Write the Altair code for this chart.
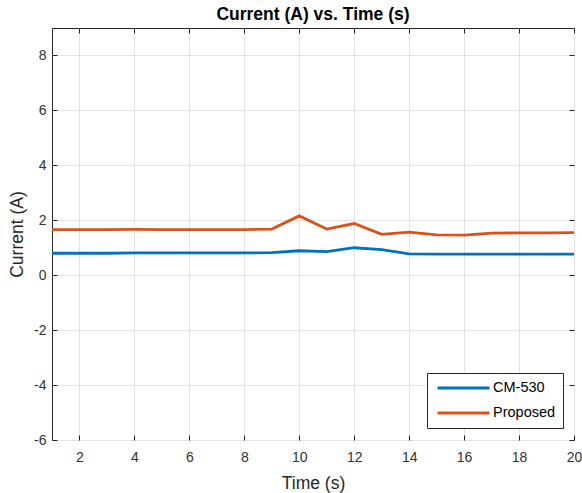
import altair as alt
import pandas as pd

time = list(range(1, 21))
cm530 = [0.80, 0.80, 0.80, 0.81, 0.81, 0.81, 0.81, 0.81, 0.82, 0.89,
         0.86, 1.00, 0.93, 0.78, 0.77, 0.77, 0.77, 0.77, 0.77, 0.77]
proposed = [1.66, 1.66, 1.66, 1.67, 1.66, 1.66, 1.66, 1.66, 1.68, 2.16,
            1.68, 1.88, 1.49, 1.57, 1.47, 1.46, 1.53, 1.54, 1.54, 1.55]
series = ["CM-530", "Proposed"]
colors = ["#0072BD", "#D95319"]
x_ticks = list(range(2, 21, 2))
y_ticks = list(range(-6, 9, 2))

df = pd.DataFrame({
    "Time": time * 2,
    "Current": cm530 + proposed,
    "Series": [series[0]] * len(time) + [series[1]] * len(time),
})

FONT = "Liberation Sans"
AX = "#262626"

xs = alt.Scale(domain=[1, 20], nice=False, zero=False)
ys = alt.Scale(domain=[-6, 9], nice=False, zero=False)

main = alt.Chart(df).mark_line(strokeWidth=2.8).encode(
    x=alt.X("Time:Q", scale=xs, title="Time (s)",
            axis=alt.Axis(values=x_ticks, grid=True, domain=False, offset=-5,
                          tickSize=5, tickColor=AX, labelPadding=10,
                          labelFontSize=14, labelColor="#333333",
                          labelExpr="datum.value + ''",
                          titleFontSize=17.5, titleFontWeight="normal",
                          titleColor=AX, titlePadding=10, labelFlush=False)),
    y=alt.Y("Current:Q", scale=ys, title="Current (A)",
            axis=alt.Axis(values=y_ticks, grid=True, domain=False, offset=-5,
                          tickSize=5, tickColor=AX, labelPadding=6,
                          labelFontSize=14, labelColor="#333333",
                          labelExpr="datum.value + ''",
                          titleFontSize=17.5, titleFontWeight="normal",
                          titleColor=AX, titlePadding=7, labelFlush=False)),
    color=alt.Color("Series:N", scale=alt.Scale(domain=series, range=colors),
                    legend=alt.Legend(title=None, orient="none", legendX=375,
                                      legendY=345, direction="vertical",
                                      symbolType="stroke", symbolSize=2704,
                                      symbolStrokeWidth=3, clipHeight=16,
                                      rowPadding=9, padding=7, symbolOffset=2,
                                      labelFontSize=14.5, labelColor="#000000",
                                      labelOffset=2, strokeColor=AX,
                                      fillColor="white")),
)

ticks = alt.Chart(df).mark_line(opacity=0).encode(
    x=alt.X("Time:Q", scale=xs, title=None,
            axis=alt.Axis(orient="top", values=x_ticks, grid=False, domain=False,
                          labels=False, offset=-5, tickSize=5, tickColor=AX)),
    y=alt.Y("Current:Q", scale=ys, title=None,
            axis=alt.Axis(orient="right", values=y_ticks, grid=False, domain=False,
                          labels=False, offset=-5, tickSize=5, tickColor=AX)),
    detail="Series:N",
)

chart = alt.layer(main, ticks).resolve_axis(x="independent", y="independent").properties(
    width=522, height=412,
    title=alt.Title("Current (A) vs. Time (s)", fontSize=17.5, fontWeight="bold",
                    color="#000000", offset=4, anchor="middle"),
    autosize=alt.AutoSizeParams(type="none"),
    padding={"left": 52, "top": 28, "right": 8, "bottom": 53},
).configure(font=FONT).configure_view(
    stroke=AX, strokeWidth=1
).configure_axis(gridColor="#e3e3e3", gridWidth=1)

chart.save("out.html", embed_options={"renderer": "svg", "actions": False})
